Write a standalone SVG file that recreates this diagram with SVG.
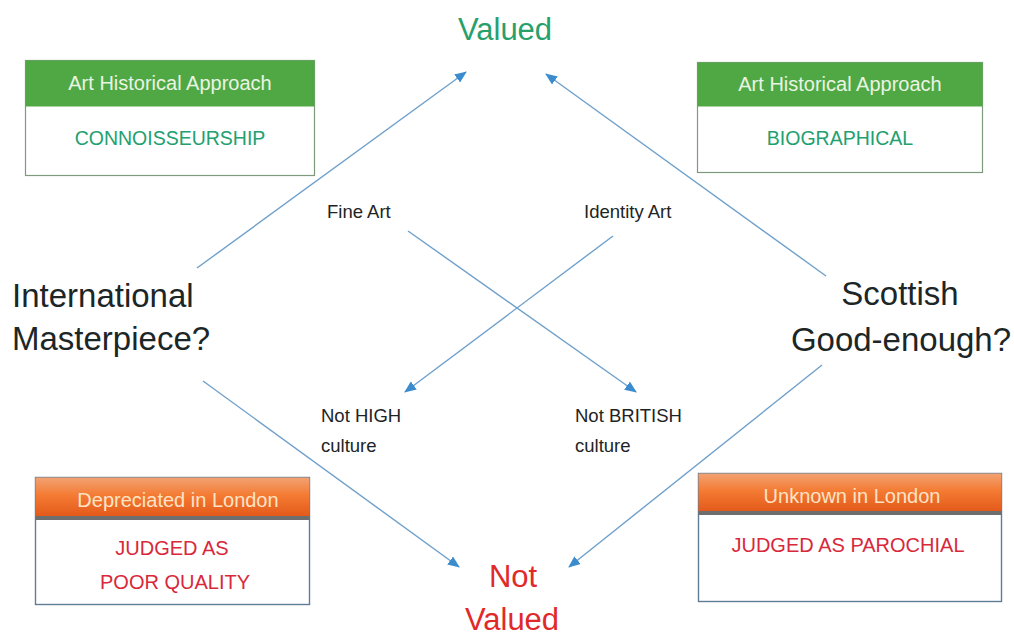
<svg xmlns="http://www.w3.org/2000/svg" width="1014" height="638" viewBox="0 0 1014 638">
  <defs>
    <marker id="tip" viewBox="0 0 12 10" refX="11" refY="5" markerWidth="12" markerHeight="10" markerUnits="userSpaceOnUse" orient="auto">
      <path d="M0,0 L12,5 L0,10 z" fill="#3a8cce"/>
    </marker>
    <linearGradient id="orangeHead" x1="0" y1="0" x2="0" y2="1">
      <stop offset="0" stop-color="#f2a273"/>
      <stop offset="0.45" stop-color="#f47a32"/>
      <stop offset="1" stop-color="#e2581a"/>
    </linearGradient>
    <style>
      text { font-family: "Liberation Sans", Arial, sans-serif; }
      .big { font-size: 33px; fill: #1c2626; }
      .small { font-size: 18.5px; fill: #1e2424; }
      .valued { font-size: 31px; fill: #27a06c; }
      .notvalued { font-size: 31px; fill: #e02a2a; }
      .greenHead { fill: #50a844; }
      .greenBox { fill: #ffffff; stroke: #7d9a7d; stroke-width: 1.2; }
      .orangeBox { fill: #ffffff; stroke: #5f7d95; stroke-width: 1.4; }
      .headText { font-size: 20px; text-anchor: middle; }
      .greenHeadText { fill: #e9f4e3; }
      .orangeHeadText { fill: #fde3c6; }
      .approach { font-size: 19.5px; fill: #22a070; text-anchor: middle; }
      .judged { font-size: 20px; fill: #d8283a; text-anchor: middle; }
      .conn { stroke: #6fa0cb; stroke-width: 1.4; fill: none; marker-end: url(#tip); }
    </style>
  </defs>

  <rect width="1014" height="638" fill="#ffffff"/>

  <!-- connectors -->
  <g id="connectors">
    <line class="conn" x1="197" y1="268" x2="466" y2="72"/>
    <line class="conn" x1="826" y1="276" x2="546" y2="74"/>
    <line class="conn" x1="408" y1="231" x2="636" y2="392"/>
    <line class="conn" x1="613" y1="236" x2="405" y2="392"/>
    <line class="conn" x1="203" y1="381" x2="459" y2="567"/>
    <line class="conn" x1="822" y1="365" x2="569" y2="567"/>
  </g>

  <!-- outcome labels -->
  <g id="valued">
    <text class="valued" x="505" y="40" text-anchor="middle">Valued</text>
  </g>
  <g id="not-valued">
    <text class="notvalued" x="513" y="587" text-anchor="middle">Not</text>
    <text class="notvalued" x="512" y="630" text-anchor="middle">Valued</text>
  </g>

  <!-- questions -->
  <g id="international">
    <text class="big" x="12" y="307">International</text>
    <text class="big" x="12" y="350">Masterpiece?</text>
  </g>
  <g id="scottish">
    <text class="big" x="900" y="305" text-anchor="middle">Scottish</text>
    <text class="big" x="901" y="351" text-anchor="middle">Good-enough?</text>
  </g>

  <!-- art categories -->
  <g id="fine-art">
    <text class="small" x="327" y="218">Fine Art</text>
  </g>
  <g id="identity-art">
    <text class="small" x="584" y="218">Identity Art</text>
  </g>
  <g id="not-high">
    <text class="small" x="321" y="422">Not HIGH</text>
    <text class="small" x="321" y="452">culture</text>
  </g>
  <g id="not-british">
    <text class="small" x="575" y="422">Not BRITISH</text>
    <text class="small" x="575" y="452">culture</text>
  </g>

  <!-- approach boxes -->
  <g id="connoisseurship">
    <rect class="greenBox" x="25.5" y="60.5" width="289" height="115"/>
    <rect class="greenHead" x="25.5" y="60.5" width="289" height="46"/>
    <text class="headText greenHeadText" x="170" y="90">Art Historical Approach</text>
    <text class="approach" x="170" y="145">CONNOISSEURSHIP</text>
  </g>
  <g id="biographical">
    <rect class="greenBox" x="697.5" y="62.5" width="285" height="110"/>
    <rect class="greenHead" x="697.5" y="62.5" width="285" height="44"/>
    <text class="headText greenHeadText" x="840" y="91">Art Historical Approach</text>
    <text class="approach" x="840" y="145">BIOGRAPHICAL</text>
  </g>

  <!-- London reception boxes -->
  <g id="depreciated">
    <rect class="orangeBox" x="35.5" y="477.5" width="274" height="127"/>
    <rect x="35.5" y="477.5" width="274" height="40" fill="url(#orangeHead)"/>
    <rect x="35.5" y="516" width="274" height="4" fill="#6e6e6e"/>
    <text class="headText orangeHeadText" x="178" y="507">Depreciated in London</text>
    <text class="judged" x="172" y="555">JUDGED AS</text>
    <text class="judged" x="175" y="589">POOR QUALITY</text>
  </g>
  <g id="unknown">
    <rect class="orangeBox" x="698.5" y="473.5" width="303" height="128"/>
    <rect x="698.5" y="473.5" width="303" height="39" fill="url(#orangeHead)"/>
    <rect x="698.5" y="511" width="303" height="4" fill="#6e6e6e"/>
    <text class="headText orangeHeadText" x="852" y="503">Unknown in London</text>
    <text class="judged" x="848" y="552">JUDGED AS PAROCHIAL</text>
  </g>
</svg>
